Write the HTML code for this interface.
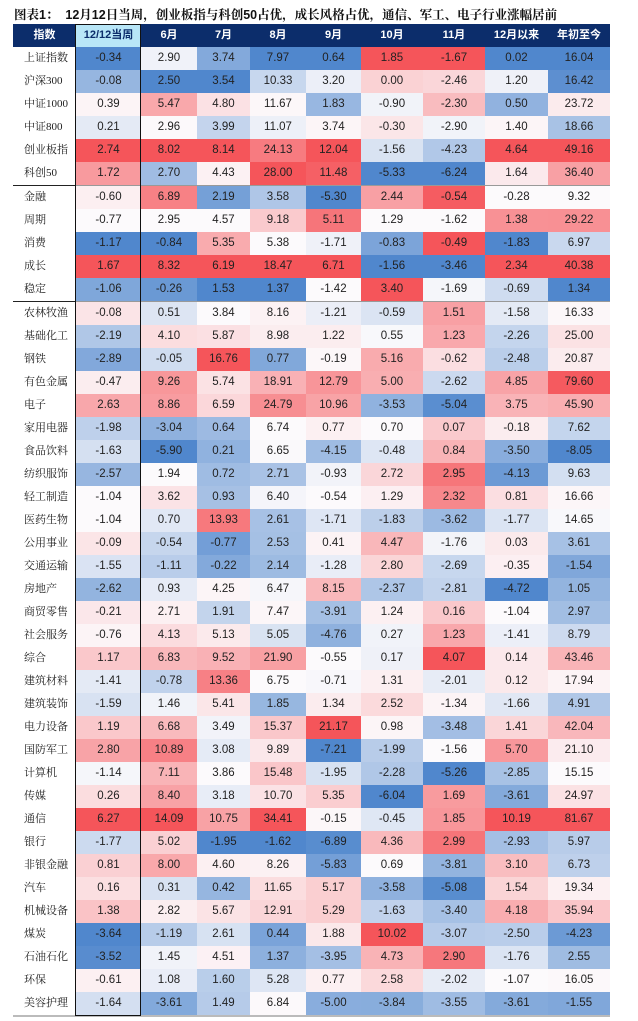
<!DOCTYPE html>
<html><head><meta charset="utf-8"><style>
body{margin:0;width:638px;height:1021px;background:#fff;position:relative;overflow:hidden;font-family:"Liberation Sans","Noto Sans CJK SC",sans-serif}
.c{position:absolute;height:23px;line-height:23px;text-align:center;font-size:11.5px;color:#222}
.l{position:absolute;height:23px;line-height:23px;font-size:11px;color:#222;font-family:"Liberation Serif","Noto Serif CJK SC",serif;padding-left:11px;box-sizing:border-box}
.h{position:absolute;top:24px;height:23px;line-height:23px;text-align:center;font-size:11px;font-weight:bold;color:#fff;background:#0c2d6b}
.t{position:absolute;left:14px;top:5px;font-size:12.5px;font-weight:bold;color:#111;font-family:"Liberation Sans","Noto Serif CJK SC",serif;white-space:nowrap}
</style></head><body>
<div class="t">图表1：&nbsp;&nbsp;12月12日当周，创业板指与科创50占优，成长风格占优，通信、军工、电子行业涨幅居前</div>
<div id="root"></div>
<script>
var xs=[13,76,141,197,250,306,361,423,485,548,610];
var hd=["指数","12/12当周","6月","7月","8月","9月","10月","11月","12月以来","年初至今"];
var G=[
[["上证指数",-0.34,2.90,3.74,7.97,0.64,1.85,-1.67,0.02,16.04],
["沪深300",-0.08,2.50,3.54,10.33,3.20,0.00,-2.46,1.20,16.42],
["中证1000",0.39,5.47,4.80,11.67,1.83,-0.90,-2.30,0.50,23.72],
["中证800",0.21,2.96,3.99,11.07,3.74,-0.30,-2.90,1.40,18.66],
["创业板指",2.74,8.02,8.14,24.13,12.04,-1.56,-4.23,4.64,49.16],
["科创50",1.72,2.70,4.43,28.00,11.48,-5.33,-6.24,1.64,36.40]],
[["金融",-0.60,6.89,2.19,3.58,-5.30,2.44,-0.54,-0.28,9.32],
["周期",-0.77,2.95,4.57,9.18,5.11,1.29,-1.62,1.38,29.22],
["消费",-1.17,-0.84,5.35,5.38,-1.71,-0.83,-0.49,-1.83,6.97],
["成长",1.67,8.32,6.19,18.47,6.71,-1.56,-3.46,2.34,40.38],
["稳定",-1.06,-0.26,1.53,1.37,-1.42,3.40,-1.69,-0.69,1.34]],
[["农林牧渔",-0.08,0.51,3.84,8.16,-1.21,-0.59,1.51,-1.58,16.33],
["基础化工",-2.19,4.10,5.87,8.98,1.22,0.55,1.23,-2.26,25.00],
["钢铁",-2.89,-0.05,16.76,0.77,-0.19,5.16,-0.62,-2.48,20.87],
["有色金属",-0.47,9.26,5.74,18.91,12.79,5.00,-2.62,4.85,79.60],
["电子",2.63,8.86,6.59,24.79,10.96,-3.53,-5.04,3.75,45.90],
["家用电器",-1.98,-3.04,0.64,6.74,0.77,0.70,0.07,-0.18,7.62],
["食品饮料",-1.63,-5.90,0.21,6.65,-4.15,-0.48,0.84,-3.50,-8.05],
["纺织服饰",-2.57,1.94,0.72,2.71,-0.93,2.72,2.95,-4.13,9.63],
["轻工制造",-1.04,3.62,0.93,6.40,-0.54,1.29,2.32,0.81,16.66],
["医药生物",-1.04,0.70,13.93,2.61,-1.71,-1.83,-3.62,-1.77,14.65],
["公用事业",-0.09,-0.54,-0.77,2.53,0.41,4.47,-1.76,0.03,3.61],
["交通运输",-1.55,-1.11,-0.22,2.14,-1.28,2.80,-2.69,-0.35,-1.54],
["房地产",-2.62,0.93,4.25,6.47,8.15,-2.37,-2.81,-4.72,1.05],
["商贸零售",-0.21,2.71,1.91,7.47,-3.91,1.24,0.16,-1.04,2.97],
["社会服务",-0.76,4.13,5.13,5.05,-4.76,0.27,1.23,-1.41,8.79],
["综合",1.17,6.83,9.52,21.90,-0.55,0.17,4.07,0.14,43.46],
["建筑材料",-1.41,-0.78,13.36,6.75,-0.71,1.31,-2.01,0.12,17.94],
["建筑装饰",-1.59,1.46,5.41,1.85,1.34,2.52,-1.34,-1.66,4.91],
["电力设备",1.19,6.68,3.49,15.37,21.17,0.98,-3.48,1.41,42.04],
["国防军工",2.80,10.89,3.08,9.89,-7.21,-1.99,-1.56,5.70,21.10],
["计算机",-1.14,7.11,3.86,15.48,-1.95,-2.28,-5.26,-2.85,15.15],
["传媒",0.26,8.40,3.18,10.70,5.35,-6.04,1.69,-3.61,24.97],
["通信",6.27,14.09,10.75,34.41,-0.15,-0.45,1.85,10.19,81.67],
["银行",-1.77,5.02,-1.95,-1.62,-6.89,4.36,2.99,-2.93,5.97],
["非银金融",0.81,8.00,4.60,8.26,-5.83,0.69,-3.81,3.10,6.73],
["汽车",0.16,0.31,0.42,11.65,5.17,-3.58,-5.08,1.54,19.34],
["机械设备",1.38,2.82,5.67,12.91,5.29,-1.63,-3.40,4.18,35.94],
["煤炭",-3.64,-1.19,2.61,0.44,1.88,10.02,-3.07,-2.50,-4.23],
["石油石化",-3.52,1.45,4.51,1.37,-3.95,4.73,2.90,-1.76,2.55],
["环保",-0.61,1.08,1.60,5.28,0.77,2.58,-2.02,-1.07,16.05],
["美容护理",-1.64,-3.61,1.49,6.84,-5.00,-3.84,-3.55,-3.61,-1.55]]];
var B=[80,135,205],W=[252,250,252],R=[245,85,90];
function mix(a,b,t){return "rgb("+[0,1,2].map(function(i){return Math.round(a[i]+(b[i]-a[i])*t)}).join(",")+")"}
var h="";
for(var i=0;i<10;i++){var s=i==1?"background:#b8e6f7;color:#0c2d6b;":"";h+='<div class="h" style="left:'+xs[i]+'px;width:'+(xs[i+1]-xs[i])+'px;'+s+'">'+hd[i]+'</div>';}
var tops=[47,186,302];
G.forEach(function(g,gi){
 var st=[];
 for(var c=1;c<10;c++){var v=g.map(function(r){return r[c]}).sort(function(a,b){return a-b});var n=v.length;var med=n%2?v[(n-1)/2]:(v[n/2-1]+v[n/2])/2;st[c]=[v[0],med,v[n-1]];}
 g.forEach(function(r,ri){
  var y=tops[gi]+ri*23;
  h+='<div class="l" style="left:13px;top:'+y+'px;width:63px">'+r[0]+'</div>';
  for(var c=1;c<10;c++){var x=r[c],s=st[c],col;
   if(x<=s[1]){var t=s[1]==s[0]?0:(s[1]-x)/(s[1]-s[0]);col=mix(W,B,t);}else{var t=(x-s[1])/(s[2]-s[1]);col=mix(W,R,t);}
   h+='<div class="c" style="left:'+xs[c]+'px;top:'+y+'px;width:'+(xs[c+1]-xs[c])+'px;background:'+col+'">'+x.toFixed(2)+'</div>';}
 });
});
h+='<div style="position:absolute;left:13px;top:185px;width:597px;height:1px;background:#999"></div>';
h+='<div style="position:absolute;left:13px;top:301px;width:597px;height:1px;background:#999"></div>';
h+='<div style="position:absolute;left:13px;top:185px;width:63px;height:1px;background:#222"></div>';
h+='<div style="position:absolute;left:13px;top:301px;width:63px;height:1px;background:#222"></div>';
h+='<div style="position:absolute;left:13px;top:1015px;width:597px;height:2px;background:#bbb"></div>';
h+='<div style="position:absolute;left:75px;top:24px;width:64px;height:990px;border:1.5px solid #111"></div>';
document.getElementById("root").innerHTML=h;
</script>
</body></html>
